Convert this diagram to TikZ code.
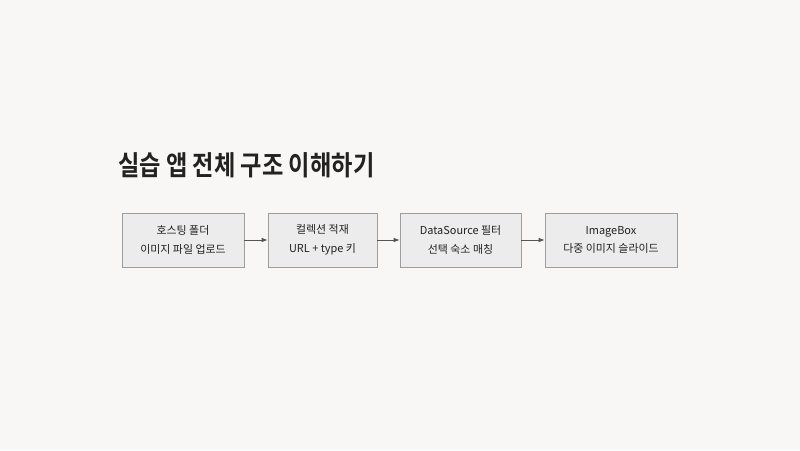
\documentclass[tikz,border=0pt]{standalone}
\usepackage{fontspec}
\setmainfont{Noto Sans CJK KR}
\newfontfamily\titlefont[FakeStretch=0.85]{Noto Sans CJK KR Bold}
\usetikzlibrary{arrows.meta}
\definecolor{bgc}{HTML}{F8F7F5}
\definecolor{boxfill}{HTML}{ECECEC}
\definecolor{boxline}{HTML}{9E9E9E}
\definecolor{txt}{HTML}{222222}
\definecolor{arr}{HTML}{555555}
\tikzset{
  stepbox/.style={draw=boxline, fill=boxfill, line width=0.6pt, minimum height=54*0.75pt, inner sep=0pt, align=center, font=\fontsize{8.2pt}{14pt}\selectfont, text=txt},
  conn/.style={draw=arr, line width=0.6pt, -{Latex[length=4.5pt,width=3.5pt]}}
}
\begin{document}
\begin{tikzpicture}[x=0.75pt,y=-0.75pt]
\fill[bgc] (0,0) rectangle (800,450);
\useasboundingbox (0,0) rectangle (800,450);
\node[anchor=base west, inner sep=0pt, text=txt, font=\titlefont\fontsize{20.5pt}{24pt}\selectfont] (title) at (118,175) {실습 앱 전체 구조 이해하기};
\node[stepbox, minimum width=122*0.75pt] (b1) at (183,240) {호스팅 폴더\\이미지 파일 업로드};
\node[stepbox, minimum width=109*0.75pt] (b2) at (322.5,240) {컬렉션 적재\\URL + type 키};
\node[stepbox, minimum width=121*0.75pt] (b3) at (460.5,240) {DataSource 필터\\선택 숙소 매칭};
\node[stepbox, minimum width=132*0.75pt] (b4) at (611,240) {ImageBox\\다중 이미지 슬라이드};
\draw[conn] (b1) -- (b2);
\draw[conn] (b2) -- (b3);
\draw[conn] (b3) -- (b4);
\end{tikzpicture}
\end{document}
